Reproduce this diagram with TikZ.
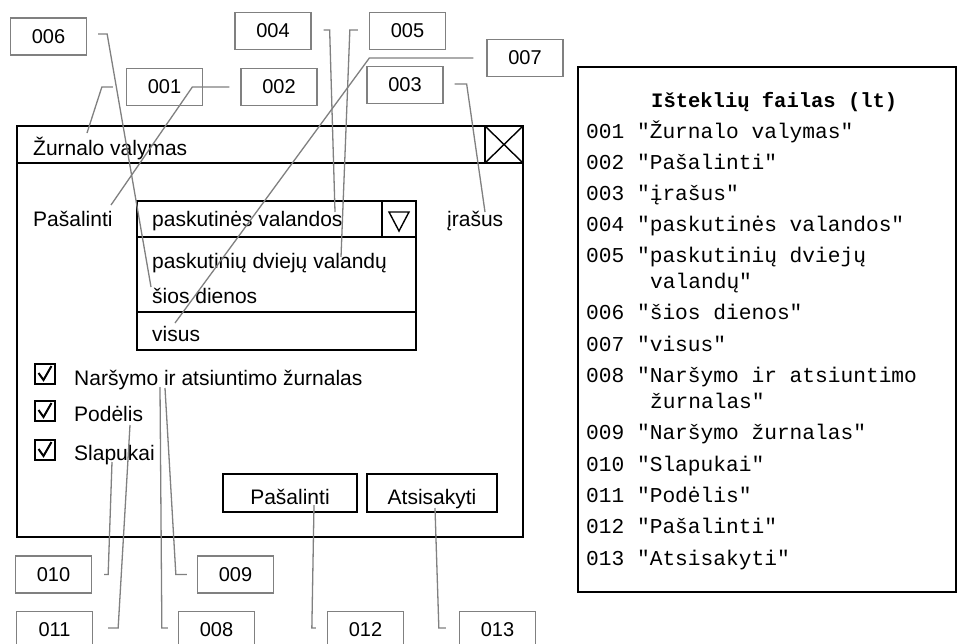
\documentclass[tikz,border=0pt]{standalone}
\usepackage{fontspec}
\setmainfont{Liberation Sans}
\newfontfamily\monofont{Liberation Mono}
\definecolor{tagGray}{HTML}{808080}
\begin{document}
\begin{tikzpicture}[x=1pt,y=-1pt,
  txt/.style={font=\fontsize{21}{25}\selectfont, inner sep=0pt},
  tag/.style={draw=tagGray, line width=1.3pt, fill=white, inner sep=0pt,
    minimum width=76pt, minimum height=37pt, font=\fontsize{20}{24}\selectfont},
  leader/.style={draw=tagGray, line width=1.3pt},
  frame/.style={draw=black, line width=1.8pt},
  res/.style={font=\monofont\fontsize{21.2}{24}\selectfont, inner sep=0pt, anchor=base west},
  chk/.style={draw=black, line width=2pt}]
\useasboundingbox (0,0) rectangle (958,643);
\fill[white] (0,0) rectangle (958,643);

% ---------- dialog window ----------
\draw[frame] (17,126) rectangle (523,537);
\draw[frame] (17,163) -- (523,163);
\draw[frame] (485,126) -- (485,163);
\draw[line width=1.4pt] (485,126) -- (523,163) (485,163) -- (523,126);
\node[txt, anchor=base west] (title) at (33,155) {Žurnalo valymas};

% row with the drop-down list
\node[txt, anchor=base west] (remove) at (33,226) {Pašalinti};
\draw[frame] (137,201) rectangle (416,237);
\draw[frame] (382,201) -- (382,237);
\draw[line width=1.4pt] (389,212) -- (409,212) -- (399,231) -- cycle;
\node[txt, anchor=base west] (entries) at (447,226) {įrašus};
\node[txt, anchor=base west] (itA) at (152,226) {paskutinės valandos};
\draw[frame] (137,237) rectangle (416,350);
\draw[frame] (137,312) -- (416,312);
\node[txt, anchor=base west] (itB) at (152,268) {paskutinių dviejų valandų};
\node[txt, anchor=base west] (itC) at (152,303) {šios dienos};
\node[txt, anchor=base west] (itD) at (152,341) {visus};

% check boxes
\foreach \yy in {374,411,450}{
  \draw[chk] (35,\yy-10) rectangle (55,\yy+10);
  \draw[line width=2pt] (38.5,\yy-1) -- (43.5,\yy+6) -- (51.5,\yy-8);
}
\node[txt, anchor=base west] (cbA) at (74,385) {Naršymo ir atsiuntimo žurnalas};
\node[txt, anchor=base west] (cbB) at (74,421) {Podėlis};
\node[txt, anchor=base west] (cbC) at (74,460) {Slapukai};

% buttons
\draw[frame] (223,474) rectangle (357,512);
\draw[frame] (367,474) rectangle (497,512);
\node[txt, anchor=base] (btnA) at (290,504) {Pašalinti};
\node[txt, anchor=base] (btnB) at (432,504) {Atsisakyti};

% ---------- identifier tags ----------
\node[tag] (t006) at (48.5,36.5) {006};
\node[tag] (t001) at (164.5,87) {001};
\node[tag] (t002) at (279,87) {002};
\node[tag] (t004) at (273,31) {004};
\node[tag] (t005) at (407.5,31) {005};
\node[tag] (t007) at (525,58) {007};
\node[tag] (t003) at (405,85) {003};
\node[tag] (t010) at (53.5,574.5) {010};
\node[tag] (t009) at (235.5,574.5) {009};
\node[tag] (t011) at (54.5,630) {011};
\node[tag] (t008) at (216.5,630) {008};
\node[tag] (t012) at (365.5,630) {012};
\node[tag] (t013) at (497.5,630) {013};

% end points of the leaders
\coordinate (e006) at (151,287);
\coordinate (e001) at (87,133);
\coordinate (e002) at (111,205);
\coordinate (e004) at (335,212);
\coordinate (e005) at (341,257);
\coordinate (e007) at (175,323);
\coordinate (e003) at (485,212);
\coordinate (e010) at (112,462);
\coordinate (e011) at (130,425);
\coordinate (e009) at (165,388);
\coordinate (e008) at (160,387);
\coordinate (e012) at (314,505);
\coordinate (e013) at (435,508);

% ---------- leaders ----------
\draw[leader] ([shift={(11,-2.5)}]t006.east) -- ++(9,0) -- (e006);
\draw[leader] ([shift={(-13,0)}]t001.west) -- ++(-11,0) -- (e001);
\draw[leader] ([shift={(-11,0)}]t002.west) -- ++(-37,0) -- (e002);
\draw[leader] ([shift={(12,-1)}]t004.east) -- ++(6,0) -- (e004);
\draw[leader] ([shift={(-11,-1)}]t005.west) -- ++(-8,0) -- (e005);
\draw[leader] ([shift={(-13,0)}]t007.west) -- ++(-104,0) -- (e007);
\draw[leader] ([shift={(11,-1)}]t003.east) -- ++(12,0) -- (e003);
\draw[leader] ([shift={(12,0)}]t010.east) -- ++(4,0) -- (e010);
\draw[leader] ([shift={(15,-2)}]t011.east) -- ++(10,0) -- (e011);
\draw[leader] ([shift={(-10,0)}]t009.west) -- ++(-11,0) -- (e009);
\draw[leader] ([shift={(-10,-2)}]t008.west) -- ++(-6,0) -- (e008);
\draw[leader] ([shift={(-11,-2)}]t012.west) -- ++(-4,0) -- (e012);
\draw[leader] ([shift={(-13,-2)}]t013.west) -- ++(-7,0) -- (e013);

% ---------- resource file ----------
\draw[line width=2pt] (578,67) rectangle (956,592);
\node[res, font=\monofont\bfseries\fontsize{20.5}{24}\selectfont] (rtitle) at (651,107) {Išteklių failas (lt)};
\node[res] (r001) at (586,138) {001 "Žurnalo valymas"};
\node[res] (r002) at (586,169) {002 "Pašalinti"};
\node[res] (r003) at (586,200) {003 "įrašus"};
\node[res] (r004) at (586,231) {004 "paskutinės valandos"};
\node[res] (r005) at (586,262) {005 "paskutinių dviejų};
\node[res] (r005b) at (650,288) {valandų"};
\node[res] (r006) at (586,319) {006 "šios dienos"};
\node[res] (r007) at (586,351) {007 "visus"};
\node[res] (r008) at (586,382) {008 "Naršymo ir atsiuntimo};
\node[res] (r008b) at (650,408) {žurnalas"};
\node[res] (r009) at (586,439) {009 "Naršymo žurnalas"};
\node[res] (r010) at (586,471) {010 "Slapukai"};
\node[res] (r011) at (586,502) {011 "Podėlis"};
\node[res] (r012) at (586,533) {012 "Pašalinti"};
\node[res] (r013) at (586,565) {013 "Atsisakyti"};
\end{tikzpicture}
\end{document}
